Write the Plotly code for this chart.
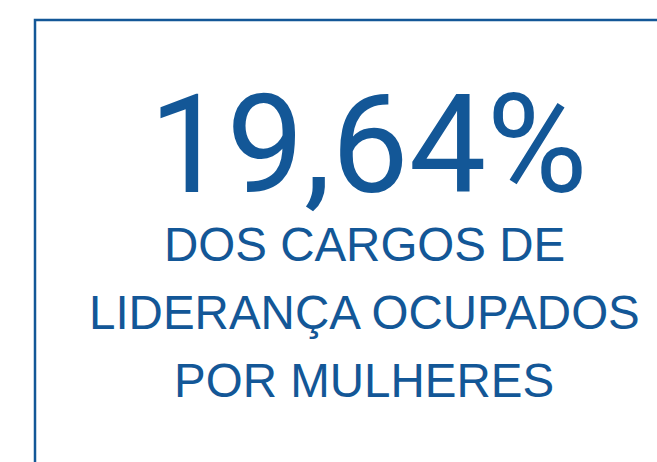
import plotly.graph_objects as go

W, H = 657, 462
BLUE = "#135797"

valor = "19,64%"
descricao = ["DOS CARGOS DE", "LIDERANÇA OCUPADOS", "POR MULHERES"]


def py(px):
    # pixel from top -> paper y
    return 1 - px / H


fig = go.Figure()

fig.add_shape(type="rect", xref="paper", yref="paper",
              x0=35 / W, x1=1.1, y0=-0.1, y1=py(20),
              line=dict(color=BLUE, width=2.5), fillcolor="rgba(0,0,0,0)")

fig.add_annotation(text=valor, xref="paper", yref="paper",
                   x=368 / W, y=py(145), xanchor="center", yanchor="middle",
                   showarrow=False, font=dict(family="Roboto", size=138, color=BLUE))

for i, linha in enumerate(descricao):
    fig.add_annotation(text=linha, xref="paper", yref="paper",
                       x=364 / W, y=py(244.5 + i * 68), xanchor="center", yanchor="middle",
                       showarrow=False, font=dict(family="Liberation Sans", size=47.5, color=BLUE))

fig.update_layout(
    width=W, height=H,
    margin=dict(l=0, r=0, t=0, b=0),
    paper_bgcolor="white", plot_bgcolor="white",
    xaxis=dict(visible=False, range=[0, 1]),
    yaxis=dict(visible=False, range=[0, 1]),
    showlegend=False,
)

fig.write_html("out.html", config=dict(displayModeBar=False),
               post_script="document.body.style.margin='0';document.body.style.overflow='hidden';")
